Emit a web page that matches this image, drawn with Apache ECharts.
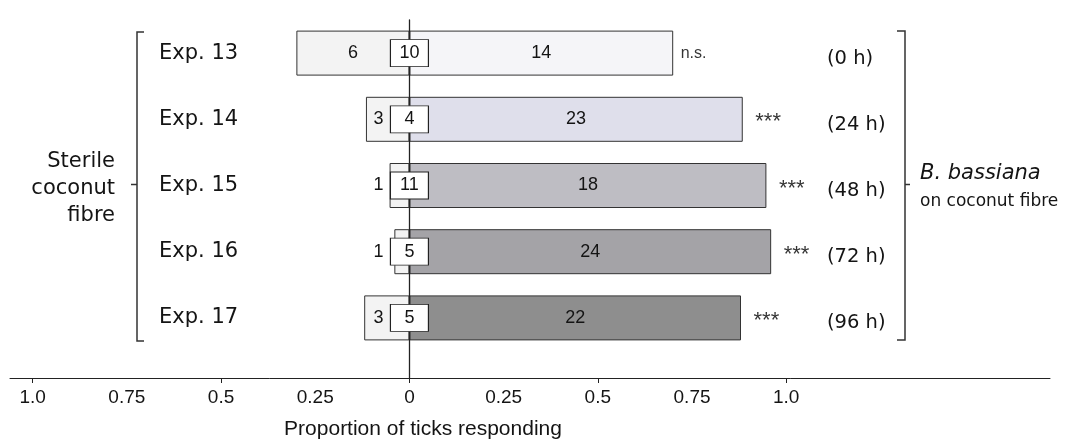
<!DOCTYPE html>
<html>
<head>
<meta charset="utf-8">
<script src="https://cdn.jsdelivr.net/npm/echarts@6/dist/echarts.min.js"></script>
<style>
  html, body { margin: 0; padding: 0; background: #fff; }
  #chart { width: 1066px; height: 442px; }
</style>
</head>
<body>
<div id="chart"></div>
<script>
// Choice tests: ticks choosing sterile coconut fibre (left) versus
// B. bassiana on coconut fibre (right); boxed numbers are non-responders.
const experiments = ['Exp. 13', 'Exp. 14', 'Exp. 15', 'Exp. 16', 'Exp. 17'];
const exposureTimes = ['(0 h)', '(24 h)', '(48 h)', '(72 h)', '(96 h)'];
const sterileCounts = [6, 3, 1, 1, 3];
const nonResponders = [10, 4, 11, 5, 5];
const bassianaCounts = [14, 23, 18, 24, 22];
const significance = ['n.s.', '***', '***', '***', '***'];
const axisLabelValues = [-1, -0.75, -0.5, -0.25, 0, 0.25, 0.5, 0.75, 1];
const axisTickValues = [-1, -0.5, 0, 0.5, 1];

// proportions among responding ticks
const responders = sterileCounts.map((s, i) => s + bassianaCounts[i]);
const sterileProp = sterileCounts.map((s, i) => s / responders[i]);
const bassianaProp = bassianaCounts.map((b, i) => b / responders[i]);

const bassianaColors = ['#f5f5f8', '#dfdfeb', '#bebdc3', '#a4a3a7', '#8e8e8e'];
const sterileColor = '#f3f3f3';
const ink = '#141414';
const numFont = 'Liberation Sans, Arial, sans-serif';
const textFont = 'DejaVu Sans, Verdana, sans-serif';

const X_MIN = -1.06, X_MAX = 1.70;
const GRID_L = 10, GRID_R = 16;

const chart = echarts.init(document.getElementById('chart'), null, { renderer: 'canvas' });

chart.setOption({
  animation: false,
  backgroundColor: '#fff',
  grid: [
    // frame: bottom axis and zero line
    { left: GRID_L, right: GRID_R, top: 20, bottom: 64 },
    // bars
    { left: GRID_L, right: GRID_R, top: 20, bottom: 91 }
  ],
  xAxis: [
    {
      gridIndex: 0, type: 'value', min: X_MIN, max: X_MAX,
      axisLine: { show: true, onZero: false, lineStyle: { color: '#222', width: 1 } },
      axisTick: { show: true, length: 5, customValues: axisTickValues, lineStyle: { color: '#222' } },
      axisLabel: {
        show: true, customValues: axisLabelValues, margin: 10,
        fontFamily: numFont, fontSize: 19, color: ink,
        formatter: v => {
          const a = Math.abs(v);
          return a === 0 ? '0' : a === 1 ? '1.0' : String(a);
        }
      },
      splitLine: { show: false }
    },
    {
      gridIndex: 1, type: 'value', min: X_MIN, max: X_MAX, show: false
    }
  ],
  yAxis: [
    {
      gridIndex: 0, type: 'value', min: 0, max: 1, z: 3,
      axisLine: { show: true, onZero: true, lineStyle: { color: '#222', width: 1.3 } },
      axisTick: { show: false }, axisLabel: { show: false }, splitLine: { show: false }
    },
    {
      gridIndex: 1, type: 'category', inverse: true, data: experiments, position: 'left',
      axisLine: { show: false }, axisTick: { show: false }, splitLine: { show: false },
      axisLabel: {
        align: 'left', margin: -149,
        fontFamily: textFont, fontSize: 21, color: ink
      }
    },
    {
      gridIndex: 1, type: 'category', inverse: true, data: exposureTimes, position: 'right',
      axisLine: { show: false }, axisTick: { show: false }, splitLine: { show: false },
      axisLabel: {
        align: 'left', margin: -223, verticalAlign: 'top', lineHeight: 11,
        fontFamily: textFont, fontSize: 19.5, color: ink
      }
    }
  ],
  series: [
    {
      name: 'Sterile coconut fibre', type: 'bar', xAxisIndex: 1, yAxisIndex: 1,
      stack: 'choice', barWidth: 45, z: 2,
      data: sterileProp.map((p, i) => ({
        value: -p,
        label: p > 0.2
          ? { position: 'inside' }
          : { position: 'insideRight', distance: 26 }
      })),
      itemStyle: { color: sterileColor, borderColor: '#333', borderWidth: 1 },
      label: {
        show: true, fontFamily: numFont, fontSize: 18, color: ink,
        formatter: p => String(sterileCounts[p.dataIndex])
      }
    },
    {
      name: 'B. bassiana', type: 'bar', xAxisIndex: 1, yAxisIndex: 1,
      stack: 'choice', barWidth: 45, z: 2,
      data: bassianaProp.map((p, i) => ({ value: p, itemStyle: { color: bassianaColors[i] } })),
      itemStyle: { borderColor: '#333', borderWidth: 1 },
      label: {
        show: true, position: 'inside', fontFamily: numFont, fontSize: 18, color: ink,
        formatter: p => String(bassianaCounts[p.dataIndex])
      }
    },
    {
      name: 'Non-responders', type: 'scatter', xAxisIndex: 1, yAxisIndex: 1, z: 5,
      symbol: 'rect', symbolSize: [38, 27],
      data: nonResponders.map((n, i) => [0, i]),
      itemStyle: { color: '#fff', borderColor: '#222', borderWidth: 1, opacity: 1 },
      label: {
        show: true, position: 'inside', fontFamily: numFont, fontSize: 18, color: ink,
        formatter: p => String(nonResponders[p.dataIndex])
      },
      emphasis: { disabled: true }
    },
    {
      name: 'Significance', type: 'scatter', xAxisIndex: 1, yAxisIndex: 1, z: 5,
      symbol: 'rect', symbolSize: 1,
      data: bassianaProp.map((p, i) => ({
        value: [p, i],
        label: significance[i] === 'n.s.'
          ? { distance: 7, fontSize: 16 }
          : { distance: 12, fontSize: 22, verticalAlign: 'top', lineHeight: 6 }
      })),
      itemStyle: { color: 'rgba(0,0,0,0)' },
      label: {
        show: true, position: 'right', color: '#000', fontFamily: numFont,
        formatter: p => significance[p.dataIndex]
      },
      emphasis: { disabled: true }
    }
  ],
  graphic: [
    // bracket grouping the sterile-fibre side
    {
      type: 'polyline', silent: true,
      shape: { points: [[144, 32], [137, 32], [137, 341], [144, 341]] },
      style: { stroke: '#333', lineWidth: 1.5, fill: null }
    },
    {
      type: 'line', silent: true,
      shape: { x1: 131, y1: 184.5, x2: 137, y2: 184.5 },
      style: { stroke: '#333', lineWidth: 1.5 }
    },
    {
      type: 'text', silent: true, x: 115, y: 188.5,
      style: {
        text: 'Sterile\ncoconut\nfibre', align: 'right', verticalAlign: 'middle',
        font: '21px "DejaVu Sans", Verdana, sans-serif', lineHeight: 26.7, fill: ink
      }
    },
    // bracket grouping the B. bassiana side
    {
      type: 'polyline', silent: true,
      shape: { points: [[897, 31], [905, 31], [905, 340], [897, 340]] },
      style: { stroke: '#333', lineWidth: 1.5, fill: null }
    },
    {
      type: 'line', silent: true,
      shape: { x1: 905, y1: 184.5, x2: 910, y2: 184.5 },
      style: { stroke: '#333', lineWidth: 1.5 }
    },
    {
      type: 'text', silent: true, x: 920, y: 173.5,
      style: {
        text: 'B. bassiana', align: 'left', verticalAlign: 'middle',
        font: 'italic 21px "DejaVu Sans", Verdana, sans-serif', fill: ink
      }
    },
    {
      type: 'text', silent: true, x: 920, y: 202,
      style: {
        text: 'on coconut fibre', align: 'left', verticalAlign: 'middle',
        font: '17px "DejaVu Sans", Verdana, sans-serif', fill: ink
      }
    },
    // axis title
    {
      type: 'text', silent: true, x: 423, y: 429,
      style: {
        text: 'Proportion of ticks responding', align: 'center', verticalAlign: 'middle',
        font: '21px "Liberation Sans", Arial, sans-serif', fill: ink
      }
    }
  ]
});
</script>
</body>
</html>
